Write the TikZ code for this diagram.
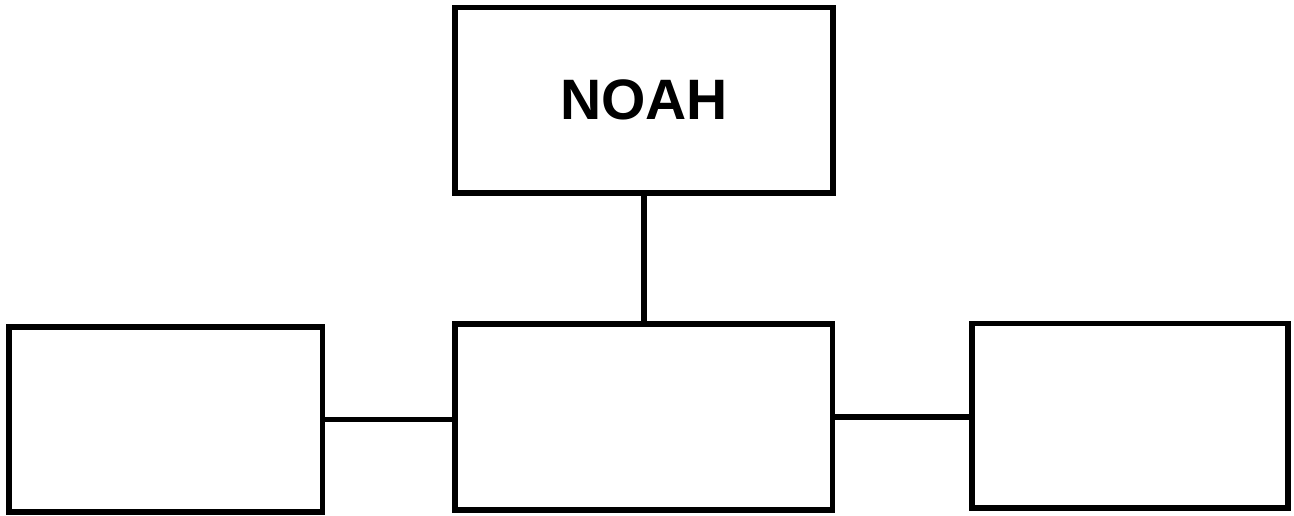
\documentclass[tikz,border=0pt]{standalone}
\usepackage{fontspec}
\setmainfont{Liberation Sans}
\begin{document}
\begin{tikzpicture}[x=1pt,y=1pt,
  box/.style={draw=black, line width=5.5pt, fill=white, inner sep=0pt, minimum width=#1},
  conn/.style={draw=black, line width=5.5pt}]
\useasboundingbox (0,0) rectangle (1294,515);
\node[box=378pt, minimum height=185.5pt, font=\fontsize{57}{60}\selectfont\bfseries] (noah) at (644,414.75) {NOAH};
\node[box=313.5pt, minimum height=185pt] (left) at (165.75,95.5) {};
\node[box=377.5pt, minimum height=186pt] (center) at (643.75,98) {};
\node[box=316pt, minimum height=184.5pt] (right) at (1130,99.25) {};
\draw[conn] (noah.south) -- (noah.south |- center.north);
\draw[conn] (left.east) -- (left.east -| center.west);
\draw[conn] (center.east) -- (center.east -| right.west);
\end{tikzpicture}
\end{document}
